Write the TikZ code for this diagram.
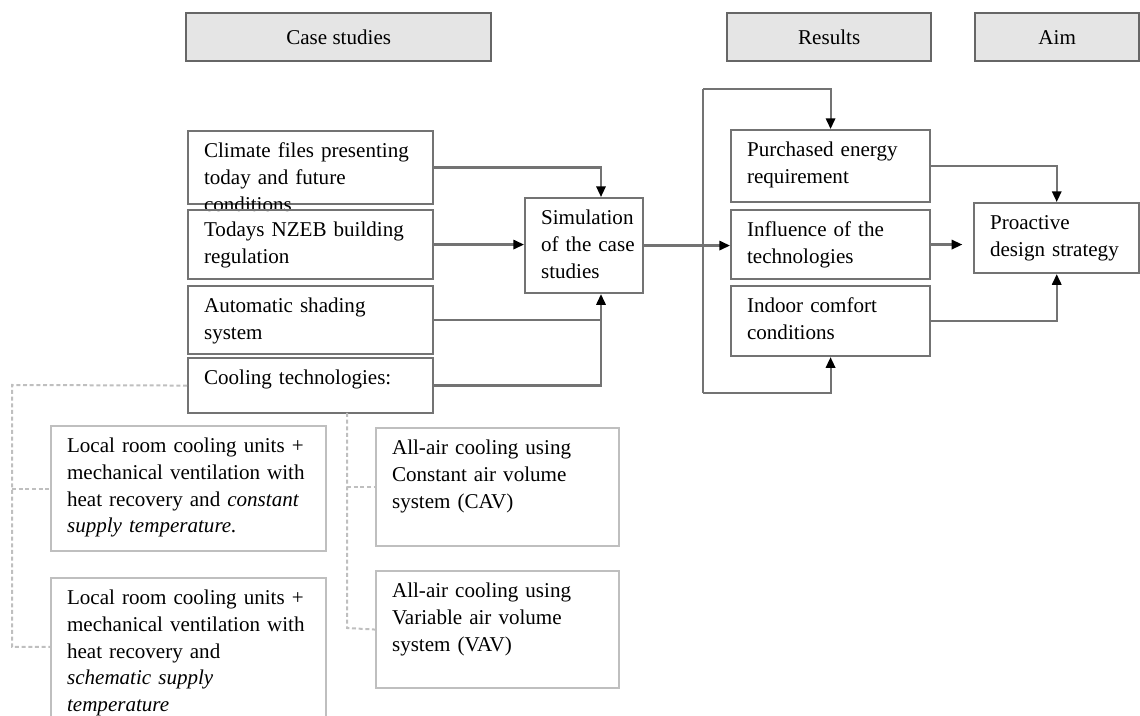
\documentclass[tikz,border=0pt]{standalone}
\usepackage{fontspec}
\setmainfont{Liberation Serif}
\usetikzlibrary{arrows.meta,calc,positioning}

\begin{document}
\begin{tikzpicture}[
  x=0.75pt, y=-0.75pt,
  every node/.style={font=\fontsize{15.8}{20}\selectfont},
  header/.style={rectangle, draw=black!60, line width=1.8pt, fill=black!10, minimum height=36pt, anchor=north west},
  block/.style={rectangle, draw=black!55, line width=1.6pt, anchor=north west, align=left, inner xsep=12pt, inner ysep=5pt, text height=15pt},
  option/.style={block, draw=black!25},
  boxsize/.style 2 args={text width=#1, text depth=#2},
  link/.style={draw=black!55, line width=1.6pt},
  arr/.style={link, -{Triangle[length=8pt, width=7pt, color=black]}},
  branch/.style={draw=black!25, line width=1.5pt, dash pattern=on 3pt off 2pt}
]
  \clip (0,0) rectangle (1140,716);

  % column titles
  \node (hcase) [header, minimum width=228.75pt] at (185,12) {Case studies};
  \node (hres) [header, minimum width=153pt] at (726,12) {Results};
  \node (haim) [header, minimum width=123pt] at (974,12) {Aim};

  % case studies
  \node (clim) [block, boxsize={159.75pt}{29.75pt}] at (187,130) {Climate files presenting\\today and future\\conditions};
  \node (nzeb) [block, boxsize={159.75pt}{26.75pt}] at (187,209) {Todays NZEB building\\regulation};
  \node (shade) [block, boxsize={159.75pt}{26pt}] at (187,285) {Automatic shading\\system};
  \node (cool) [block, boxsize={159.75pt}{16.25pt}] at (187,357) {Cooling technologies:};

  \node (sim) [block, boxsize={64.5pt}{46.25pt}] at (524,197) {\mbox{Simulation}\\\mbox{of the case}\\\mbox{studies}};

  % results
  \node (purch) [block, boxsize={125.25pt}{29pt}] at (730,129) {Purchased energy\\requirement};
  \node (infl) [block, boxsize={125.25pt}{26.75pt}] at (730,209) {Influence of the\\technologies};
  \node (indoor) [block, boxsize={125.25pt}{27.5pt}] at (730,285) {Indoor comfort\\conditions};

  \node (proact) [block, boxsize={100pt}{27.5pt}] at (973,202) {Proactive\\design strategy};

  % cooling options
  \node (local1) [option, boxsize={182.25pt}{68.75pt}] at (50,425) {Local room cooling units +\\mechanical ventilation with\\heat recovery and \textit{constant}\\\textit{supply temperature.}};
  \node (local2) [option, boxsize={182.25pt}{87.5pt}] at (50,577) {Local room cooling units +\\mechanical ventilation with\\heat recovery and\\\textit{schematic supply}\\\textit{temperature}};
  \node (cav) [option, boxsize={158.25pt}{63.5pt}] at (375,427) {All-air cooling using\\Constant air volume\\system (CAV)};
  \node (vav) [option, boxsize={158.25pt}{62.75pt}] at (375,570) {All-air cooling using\\Variable air volume\\system (VAV)};

  % into the simulation
  \coordinate (simin) at (601,0);
  \draw [arr] (clim.east) -| (simin |- sim.north);
  \draw [arr] (nzeb.east) -- (nzeb.east -| sim.west);
  \draw [arr] (shade.east) -| (simin |- sim.south);
  \draw [link] (cool.east) -| (simin |- shade.east);

  % simulation to results
  \coordinate (ltop) at (703,89);
  \coordinate (lbot) at (703,393);
  \draw [arr] (sim.east) -- (sim.east -| infl.west);
  \draw [arr] (ltop) -| (purch.north);
  \draw [link] (ltop) -- (lbot);
  \draw [arr] (lbot) -| (indoor.south);

  % results to aim
  \draw [arr] (purch.east) -| (proact.north);
  \draw [arr, shorten >=8pt] (infl.east) -- (infl.east -| proact.west);
  \draw [arr] (indoor.east) -| (proact.south);

  % cooling technologies branches
  \coordinate (bl1) at (12,385);
  \coordinate (bl2) at (12,647);
  \coordinate (br1) at (347,413);
  \coordinate (br2) at (347,628);
  \draw [branch] (cool.west) -- (bl1) -- (bl2) -- (bl2 -| local2.west);
  \draw [branch] (bl1 |- local1.west) -- (local1.west);
  \draw [branch] (br1) -- (br2) -- (vav.west);
  \draw [branch] (br1 |- cav.west) -- (cav.west);
\end{tikzpicture}
\end{document}
